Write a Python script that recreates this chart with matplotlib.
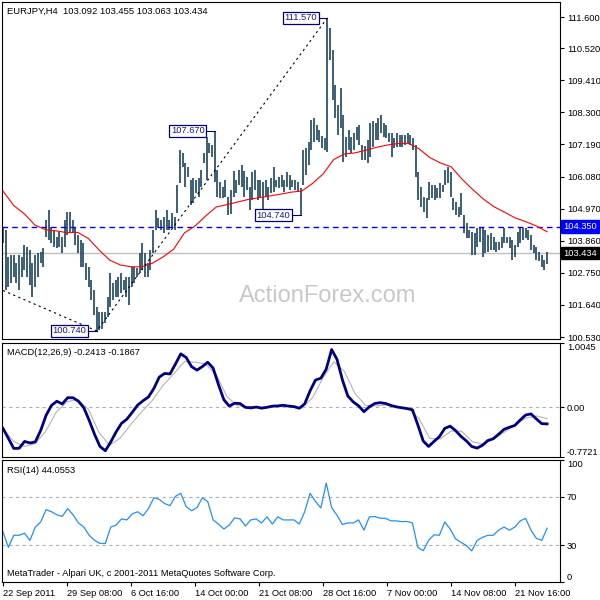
import matplotlib
matplotlib.use("Agg")
import matplotlib.pyplot as plt
import numpy as np

plt.rcParams['font.family'] = ['Liberation Sans', 'DejaVu Sans']

# EURJPY H4 bars, high / low
highs = [
    104.30, 104.23, 103.30, 103.37, 103.37, 103.09, 103.37, 103.30, 103.71, 103.64,
    103.54, 103.09, 103.37, 103.44, 103.47, 103.61, 104.58, 104.92, 104.34, 104.23,
    103.99, 104.16, 103.99, 104.58, 104.86, 104.86, 104.58, 104.34, 104.06, 103.89,
    103.78, 103.09, 102.95, 102.50, 102.16, 101.57, 101.39, 101.39, 101.39, 101.91,
    102.74, 102.40, 102.50, 102.60, 102.74, 102.50, 102.60, 102.60, 102.95, 102.95,
    102.92, 103.44, 103.78, 103.44, 103.09, 103.54, 104.23, 104.92, 104.65, 104.58,
    104.68, 104.92, 104.58, 104.82, 104.68, 105.79, 107.00, 106.90, 106.55, 106.41,
    105.96, 106.03, 105.96, 106.03, 106.31, 106.90, 107.45, 107.24, 107.17, 107.67,
    106.31, 105.89, 105.72, 105.96, 105.37, 105.62, 106.28, 105.96, 106.31, 106.48,
    106.28, 106.07, 105.72, 106.24, 106.31, 105.96, 105.96, 105.89, 105.96, 105.72,
    106.03, 106.41, 105.96, 106.07, 106.14, 105.96, 106.24, 106.14, 105.96, 105.96,
    105.89, 105.69,
    107.00, 107.07, 107.28, 108.04, 108.11, 107.87, 107.69, 107.48, 107.42, 111.57,
    111.22, 110.46, 109.25, 108.56, 109.15, 108.21, 107.45, 107.69, 107.45, 107.59,
    107.80, 107.87, 107.17, 107.14, 107.35, 107.93, 108.00, 107.93, 108.11, 108.21,
    107.93, 107.87, 107.59, 107.59, 107.42, 107.59, 107.52, 107.52, 107.52, 107.59,
    107.52, 107.42, 107.17, 106.24, 105.72, 105.37, 105.34, 105.89, 105.79, 105.79,
    105.69, 105.86, 105.79, 106.31, 106.41, 106.24, 105.34, 105.20, 105.03, 105.51,
    104.75, 104.47, 104.23, 104.16, 104.13, 104.30, 104.30, 104.30, 104.23, 104.06,
    104.13, 103.99, 103.82, 103.82, 103.99, 104.30, 103.99, 103.99, 103.89, 103.71,
    104.16, 104.30, 104.30, 104.30, 104.23, 104.06, 103.71, 103.64, 103.47, 103.37,
    103.19, 103.455,
]
lows = [
    103.78, 102.16, 102.26, 102.40, 102.60, 102.40, 102.16, 102.60, 102.85, 102.60,
    102.33, 101.91, 102.26, 102.60, 103.09, 102.95, 103.99, 103.89, 103.78, 103.64,
    103.61, 103.64, 103.44, 103.64, 104.06, 104.16, 104.13, 103.71, 103.44, 102.95,
    102.95, 102.50, 102.26, 101.81, 101.29, 100.74, 100.77, 100.80, 101.01, 101.22,
    101.57, 101.81, 101.91, 101.91, 102.05, 102.16, 101.91, 101.64, 102.26, 102.40,
    102.60, 102.74, 102.85, 102.60, 102.60, 102.85, 103.44, 104.23, 104.30, 104.23,
    104.13, 104.23, 104.23, 104.34, 104.23, 104.82, 105.86, 106.41, 105.72, 106.07,
    105.10, 105.17, 105.51, 105.37, 105.72, 106.55, 105.96, 106.90, 106.76, 105.89,
    105.37, 105.34, 105.34, 105.37, 104.76, 104.78, 105.37, 105.51, 105.79, 105.72,
    105.37, 105.62, 104.92, 105.27, 105.62, 105.27, 105.37, 104.92, 105.37, 105.27,
    105.51, 105.55, 105.72, 105.69, 105.72, 105.55, 105.72, 105.62, 105.72, 105.62,
    105.55, 104.74,
    105.79, 106.14, 106.48, 107.00, 107.28, 107.35, 107.28, 107.07, 107.00, 106.93,
    110.11, 108.73, 108.11, 107.52, 107.76, 106.58, 106.76, 107.00, 106.90, 107.00,
    107.35, 107.17, 106.65, 106.65, 106.55, 106.76, 107.10, 107.35, 107.35, 107.59,
    107.45, 107.42, 107.28, 106.76, 107.07, 107.10, 107.10, 107.10, 107.17, 107.24,
    107.17, 107.00, 106.07, 105.27, 105.03, 104.86, 104.65, 105.27, 105.34, 105.27,
    105.34, 105.34, 105.55, 105.79, 105.86, 105.37, 104.92, 104.75, 104.68, 104.75,
    104.13, 103.96, 103.96, 103.37, 103.37, 103.64, 103.82, 103.30, 103.44, 103.47,
    103.54, 103.54, 103.47, 103.54, 103.61, 103.78, 103.78, 103.61, 103.19, 103.30,
    103.64, 103.78, 103.89, 103.96, 103.89, 103.54, 103.44, 103.19, 103.16, 102.95,
    102.85, 103.063,
]

# moving average (red), sampled evenly across the bars
ma_line = [
    105.58, 105.08, 104.79, 104.40, 104.24, 104.20, 104.14, 104.15, 103.94, 103.54,
    103.19, 103.02, 102.96, 102.96, 103.08, 103.30, 103.57, 104.13, 104.37, 104.72,
    105.03, 105.11, 105.20, 105.29, 105.35, 105.41, 105.47, 105.54, 105.58, 105.84,
    106.17, 106.67, 106.86, 106.90, 106.99, 107.09, 107.17, 107.22, 107.23, 107.04,
    106.74, 106.55, 106.42, 106.00, 105.64, 105.31, 105.04, 104.85, 104.65, 104.52,
    104.37, 104.17,
]

macd_main = [
    -0.332, -0.489, -0.646, -0.643, -0.536, -0.560, -0.544, -0.363, -0.127, 0.027,
    0.093, 0.050, 0.148, 0.148, 0.093, -0.009, -0.206, -0.426, -0.615, -0.682,
    -0.544, -0.387, -0.253, -0.187, -0.080, 0.033, 0.101, 0.160, 0.292, 0.470,
    0.528, 0.520, 0.674, 0.835, 0.777, 0.635, 0.580, 0.635, 0.703, 0.612,
    0.352, 0.116, 0.017, 0.061, 0.057, -0.003, -0.011, 0.002, -0.016, -0.002,
    0.016, 0.020, 0.030, 0.017, 0.009, -0.017, 0.052, 0.256, 0.424, 0.454,
    0.596, 0.902, 0.748, 0.428, 0.176, 0.083, 0.022, -0.071, 0.006, 0.057,
    0.071, 0.058, 0.027, 0.005, -0.009, -0.022, -0.041, -0.277, -0.530, -0.615,
    -0.536, -0.462, -0.332, -0.297, -0.366, -0.457, -0.527, -0.615, -0.641, -0.596,
    -0.522, -0.494, -0.423, -0.347, -0.314, -0.286, -0.201, -0.123, -0.105, -0.184,
    -0.258, -0.262,
]
macd_signal = [
    -0.336, -0.536, -0.615, -0.572, -0.379, -0.075, 0.085, 0.119, -0.033, -0.395,
    -0.599, -0.481, -0.266, -0.072, 0.104, 0.341, 0.522, 0.711, 0.706, 0.674,
    0.501, 0.162, 0.022, 0.008, 0.003, 0.003, 0.013, 0.008, -0.011, 0.145,
    0.461, 0.711, 0.560, 0.211, 0.027, 0.019, 0.038, 0.005, -0.017, -0.182,
    -0.489, -0.497, -0.374, -0.379, -0.541, -0.578, -0.498, -0.390, -0.277, -0.171,
    -0.138, -0.179,
]

rsi = [
    41.1, 28.5, 38.3, 38.3, 40.0, 34.1, 45.0, 49.2, 59.3, 57.6,
    55.1, 53.7, 60.1, 55.1, 48.4, 45.0, 38.3, 34.1, 31.6, 31.6,
    45.0, 46.7, 51.7, 50.9, 55.9, 57.6, 54.3, 60.1, 69.1, 67.7,
    64.3, 62.6, 70.2, 72.7, 61.8, 58.4, 61.0, 68.9, 66.0, 50.9,
    47.5, 43.4, 46.7, 52.6, 51.7, 45.9, 50.9, 51.7, 48.4, 53.4,
    47.5, 53.4, 50.9, 50.9, 50.9, 47.5, 57.6, 72.7, 66.0, 60.7,
    81.1, 61.0, 54.7, 47.1, 48.4, 48.4, 50.9, 42.5, 53.4, 53.7,
    52.3, 52.2, 50.1, 50.1, 49.5, 49.6, 48.4, 28.3, 25.7, 34.1,
    38.7, 38.3, 49.2, 43.4, 35.4, 32.5, 29.9, 25.5, 34.1, 36.6,
    38.3, 38.3, 42.5, 45.0, 42.5, 45.0, 50.1, 52.2, 42.5, 35.8,
    34.1, 44.06,
]

price_ticks = [111.6, 110.52, 109.41, 108.3, 107.19, 106.08, 104.97, 103.86, 102.75, 101.64, 100.53]
date_labels = ['22 Sep 2011', '29 Sep 08:00', '6 Oct 16:00', '14 Oct 00:00', '21 Oct 08:00',
               '28 Oct 16:00', '7 Nov 00:00', '14 Nov 08:00', '21 Nov 16:00']
pivot_bars = [121, 79, 111, 35]
pivot_prices = [111.57, 107.67, 104.74, 100.74]
trend_bars = [0, 35, 121]
trend_prices = [102.14, 100.74, 111.57]
level_price = 104.35
last_price = 103.434
header = 'EURJPY,H4  103.092 103.455 103.063 103.434'

bar_col = '#123c57'
n = len(highs)
xb = np.arange(n)
x_lim = (-0.37, 207.8)


def panel(top, bottom):
    return fig.add_axes([2 / 600, 1 - bottom / 600, 558 / 600, (bottom - top) / 600])


def style(ax):
    ax.set_xlim(*x_lim)
    ax.yaxis.tick_right()
    ax.tick_params(axis='y', direction='out', length=3, width=0.8, pad=2, labelsize=6.7,
                   right=True, left=False, colors='black')
    ax.tick_params(axis='x', bottom=False, labelbottom=False)
    for s in ax.spines.values():
        s.set_color('black')
        s.set_linewidth(0.8)


fig = plt.figure(figsize=(6, 6), dpi=100)

# ---- price panel
ax = panel(2, 339)
style(ax)
ax.set_ylim(100.461, 112.119)
ax.set_yticks(price_ticks, ['%.3f' % v for v in price_ticks])

ax.text(0.584, 0.128, 'ActionForex.com', transform=ax.transAxes, fontsize=17,
        color='#c8c8c8', ha='center', va='center', zorder=0)

ax.axhline(last_price, color='#c0c0c0', lw=1, zorder=1)
ax.axhline(level_price, color='#0000ff', lw=1, dashes=(4, 3), zorder=3)
ax.vlines(xb, lows, highs, color=bar_col, lw=1.15, zorder=2)
ax.plot(np.linspace(0, n - 1, len(ma_line)), ma_line, color='red', lw=0.8, zorder=3)
ax.plot(trend_bars, trend_prices, color='black', lw=0.8, dashes=(2, 3), zorder=3)

for b, p in zip(pivot_bars, pivot_prices):
    ax.plot([b - 3.8, b], [p, p], color='#000080', lw=0.8, zorder=4)
    ax.text(b - 3.8, p, '%.3f' % p, ha='right', va='center', fontsize=6.7, color='#1a1a80',
            zorder=5, bbox=dict(boxstyle='square,pad=0.15', fc='white', ec='#000080', lw=0.9))

yt = ax.get_yaxis_transform()
ax.text(1.006, level_price, '%.3f' % level_price, transform=yt, ha='left', va='center',
        fontsize=6.7, color='white', clip_on=False,
        bbox=dict(boxstyle='square,pad=0.2', fc='#0000ff', ec='#0000ff'))
ax.text(1.006, last_price, '%.3f' % last_price, transform=yt, ha='left', va='center',
        fontsize=6.7, color='white', clip_on=False,
        bbox=dict(boxstyle='square,pad=0.2', fc='black', ec='black'))
ax.text(0.009, 0.973, header, transform=ax.transAxes, fontsize=6.8, va='center')

# ---- MACD panel
am = panel(343, 456.5)
style(am)
am.set_ylim(-0.7721, 1.0045)
am.set_yticks([1.0045, 0, -0.7721], ['1.0045', '0.00', '-0.7721'])
lbl = am.get_yticklabels()
lbl[0].set_va('top')
lbl[2].set_va('bottom')
am.axhline(0, color='#b0b0b0', lw=0.8, dashes=(3, 3))
am.plot(np.linspace(0, n - 1, len(macd_signal)), macd_signal, color='#b4b4b4', lw=0.8)
am.plot(np.linspace(0, n - 1, len(macd_main)), macd_main, color='#000080', lw=2.0)
am.text(0.009, 0.92, 'MACD(12,26,9) -0.2413 -0.1867', transform=am.transAxes,
        fontsize=6.7, va='center')

# ---- RSI panel
ar = panel(460, 582)
style(ar)
ar.set_ylim(0, 100)
ar.set_yticks([100, 70, 30, 0], ['100', '70', '30', '0'])
lbl = ar.get_yticklabels()
lbl[0].set_va('top')
lbl[3].set_va('bottom')
for lv in (70, 30):
    ar.axhline(lv, color='#b0b0b0', lw=0.8, dashes=(3, 3))
ar.plot(np.linspace(0, n - 1, len(rsi)), rsi, color='#1e90ff', lw=0.9)
ar.text(0.009, 0.918, 'RSI(14) 44.0553', transform=ar.transAxes, fontsize=6.7, va='center')
ar.text(0.009, 0.066, 'MetaTrader - Alpari UK, c 2001-2011 MetaQuotes Software Corp.',
        transform=ar.transAxes, fontsize=6.7, va='center')

date_pos = np.arange(len(date_labels)) * 23.88
ar.tick_params(axis='x', bottom=True, labelbottom=True, direction='out', length=3,
               width=0.8, pad=2, labelsize=6.7)
ar.set_xticks(date_pos, date_labels, ha='left')

fig.savefig('out.png', dpi=100, facecolor='white')
